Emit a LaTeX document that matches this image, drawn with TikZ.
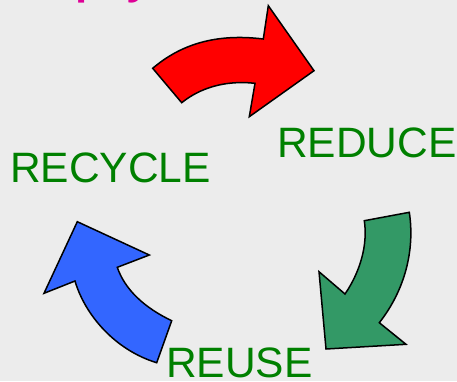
\documentclass[tikz,border=0pt]{standalone}
\usepackage{fontspec}
\setmainfont{Liberation Sans}
\newfontfamily\headfont{Open Sans}
\usetikzlibrary{positioning}

\definecolor{bgrey}{RGB}{236,236,236}
\definecolor{wordgreen}{RGB}{0,128,0}
\definecolor{headpink}{RGB}{222,0,150}
\definecolor{arrred}{RGB}{255,0,0}
\definecolor{arrgreen}{RGB}{51,153,102}
\definecolor{arrblue}{RGB}{51,102,255}

\tikzset{
  bent/.style={draw=black, line width=1.5pt, line join=miter},
  word/.style={font=\fontsize{42.5}{42.5}\selectfont, text=wordgreen, inner sep=0pt, anchor=base west},
}

\begin{document}
\begin{tikzpicture}[x=1pt,y=-1pt]

\fill[bgrey] (0,0) rectangle (457,381);
\useasboundingbox (0,0) rectangle (457,381);
\clip (0,0) rectangle (457,381);

% title, cut at the top edge
\node[anchor=base east, inner sep=0pt, text=headpink, font=\headfont\bfseries\fontsize{40}{40}\selectfont] (title) at (150,-7) {Philosophy};

% red arrow
\draw[bent, fill=arrred] (152.7,68.3) .. controls (180,45) and (215,33) .. (263.3,39) -- (268.3,5.7) -- (314,70.7) -- (249.3,116.7) -- (255,83.3) .. controls (225,80) and (200,88) .. (181.7,102.7) -- cycle;

% green arrow
\draw[bent, fill=arrgreen] (364.3,220.7) -- (409.3,212.3) .. controls (415,250) and (405,290) .. (379.3,322.7) -- (406,344.3) -- (326,349) -- (319,271.7) -- (345,294) .. controls (360,272) and (368,245) .. (364.3,220.7) -- cycle;

% blue arrow
\draw[bent, fill=arrblue] (156.7,362.7) -- (171.7,320.7) .. controls (145,308) and (125,290) .. (117.3,267.3) -- (149.3,255) -- (77.3,221.7) -- (44,293.3) -- (75,281) .. controls (85,315) and (115,350) .. (156.7,362.7) -- cycle;

\node[word] (reduce) at (277,157) {REDUCE};
\node[word] (recycle) at (10,182) {RECYCLE};
\node[word] (reuse) at (166,377) {REUSE};

\end{tikzpicture}
\end{document}
